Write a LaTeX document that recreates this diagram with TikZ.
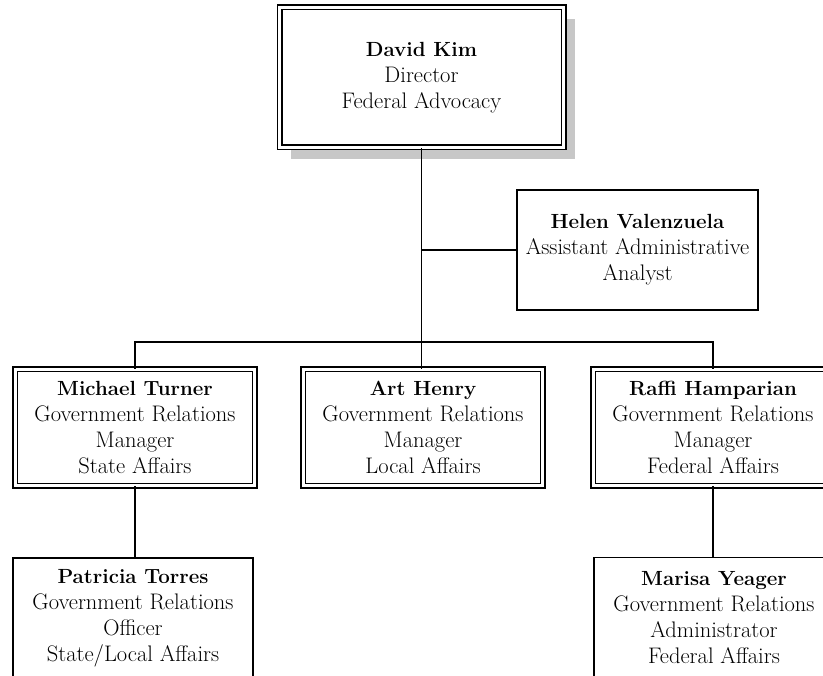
\documentclass[tikz,border=0pt]{standalone}
\usetikzlibrary{shadows}
\newcommand{\pname}[1]{{\fontsize{20.5}{26}\selectfont\bfseries #1}}
\begin{document}
\begin{tikzpicture}[x=1pt, y=-1pt,
    every node/.style={rectangle, draw, fill=white, align=center, line width=1.6pt,
        font=\fontsize{22.5}{26}\selectfont, inner sep=0pt},
    dbox/.style={double, double distance=3pt, line width=1.5pt,
        minimum width=239.5pt, minimum height=116.4pt},
    sbox/.style={minimum width=240pt, minimum height=120pt},
    link/.style={line width=1.8pt}]
    \useasboundingbox (0,0) rectangle (823,676);
    \clip (0,0) rectangle (823,676);
    \node[dbox, minimum width=284pt, minimum height=140pt,
        drop shadow={shadow xshift=11pt, shadow yshift=-12pt, fill=black!22, opacity=1}]
        (dk) at (421.5,77.5) {\pname{David Kim}\\Director\\Federal Advocacy};
    \node[sbox, minimum width=241pt] (hv) at (637.5,250) {\pname{Helen Valenzuela}\\Assistant Administrative\\Analyst};
    \node[dbox] (mt) at (135,427.5) {\pname{Michael Turner}\\Government Relations\\Manager\\State Affairs};
    \node[dbox] (ah) at (423,427.5) {\pname{Art Henry}\\Government Relations\\Manager\\Local Affairs};
    \node[dbox] (rh) at (713,427.5) {\pname{Raffi Hamparian}\\Government Relations\\Manager\\Federal Affairs};
    \node[sbox, minimum height=121pt] (pt) at (133,618.5) {\pname{Patricia Torres}\\Government Relations\\Officer\\State/Local Affairs};
    \node[sbox, minimum height=121pt] (my) at (714,618) {\pname{Marisa Yeager}\\Government Relations\\Administrator\\Federal Affairs};
    % connectors
    \coordinate (bus) at (422,342);
    \draw[link] (dk.south) -- (dk.south |- ah.north);
    \draw[link] (dk.south |- hv.west) -- (hv.west);
    \draw[link] (mt.north) -- (mt.north |- bus) -- (rh.north |- bus) -- (rh.north);
    \draw[link] (mt.south) -- (mt.south |- pt.north);
    \draw[link] (rh.south) -- (rh.south |- my.north);
\end{tikzpicture}
\end{document}
